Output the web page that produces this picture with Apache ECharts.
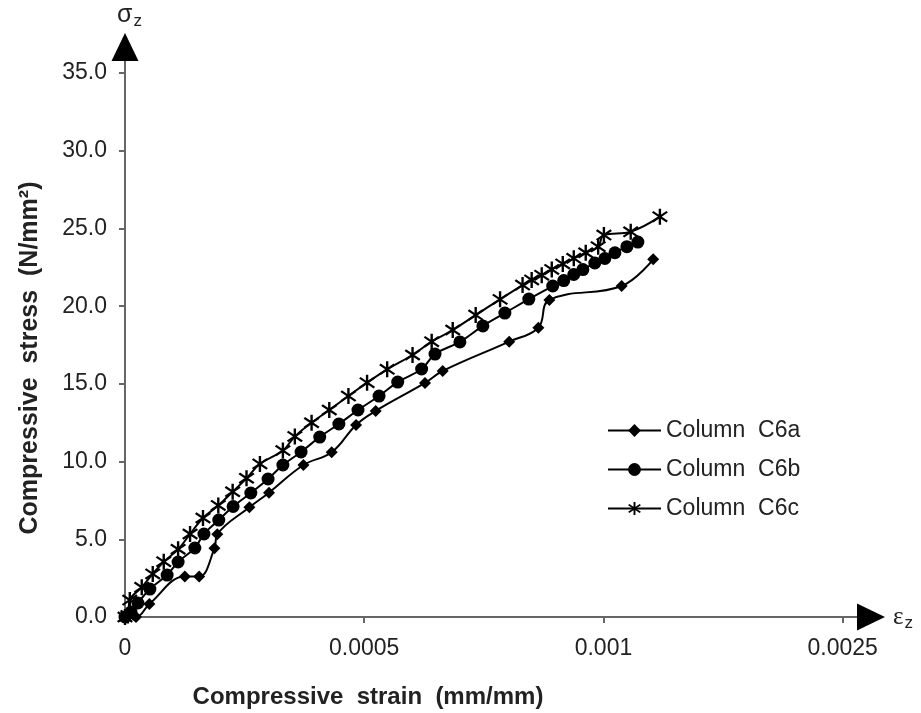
<!DOCTYPE html>
<html>
<head>
<meta charset="utf-8">
<script src="https://cdn.jsdelivr.net/npm/echarts@6/dist/echarts.min.js"></script>
<style>html,body{margin:0;padding:0;background:#fff;}</style>
</head>
<body>
<div id="chart" style="width:921px;height:713px;"></div>
<script>

// strain (mm/mm) / stress (N/mm2)
let c6aStrain = [0, 0.000023, 0.000051, 0.000125, 0.000155, 0.000187, 0.000193, 0.00026, 0.000301, 0.000373, 0.000432,
    0.000483, 0.000524, 0.000627, 0.000664, 0.000803, 0.000864, 0.000887, 0.001038, 0.001104];
let c6aStress = [0, 0.0, 0.84, 2.6, 2.6, 4.42, 5.32, 7.06, 8.0, 9.78, 10.6,
    12.36, 13.26, 15.06, 15.83, 17.72, 18.62, 20.4, 21.3, 23.02];

let c6bStrain = [0, 0.0000125, 0.000027, 0.000052, 0.000088, 0.000111, 0.000146, 0.000165, 0.000196, 0.000226, 0.000263,
    0.000299, 0.00033, 0.000368, 0.000407, 0.000447, 0.000487, 0.000531, 0.00057, 0.00062, 0.000648, 0.0007,
    0.000748, 0.000794, 0.000844, 0.000894, 0.000917, 0.000938, 0.000957, 0.000982, 0.001003, 0.001024, 0.001049, 0.001072];
let c6bStress = [0, 0.32, 0.9, 1.8, 2.7, 3.54, 4.44, 5.34, 6.24, 7.11, 7.98,
    8.88, 9.78, 10.62, 11.58, 12.42, 13.32, 14.22, 15.12, 15.96, 16.92, 17.7,
    18.73, 19.56, 20.46, 21.3, 21.65, 22.04, 22.36, 22.78, 23.07, 23.44, 23.83, 24.13];

let c6cStrain = [0, 0.000006, 0.00001, 0.000035, 0.000058, 0.000081, 0.000111, 0.000136, 0.000163, 0.000195, 0.000225,
    0.000254, 0.000282, 0.00033, 0.000355, 0.00039, 0.000427, 0.000467, 0.000506, 0.000548, 0.000601, 0.000641,
    0.000685, 0.000733, 0.000784, 0.000831, 0.00085, 0.000871, 0.000892, 0.000915, 0.000938, 0.000963, 0.000989,
    0.001001, 0.001057, 0.001118];
let c6cStress = [0, 0.1, 1.09, 1.91, 2.77, 3.56, 4.36, 5.34, 6.37, 7.18, 8.06,
    8.93, 9.85, 10.71, 11.62, 12.5, 13.32, 14.22, 15.08, 15.94, 16.86, 17.72,
    18.47, 19.43, 20.44, 21.36, 21.69, 22.0, 22.37, 22.72, 23.08, 23.44, 23.83,
    24.58, 24.79, 25.76];

let seriesNames = ['Column  C6a', 'Column  C6b', 'Column  C6c'];

let xTickValues = [0, 0.0005, 0.001, 0.0015];
let xTickLabels = ['0', '0.0005', '0.001', '0.0025'];
let yTickValues = [0, 5, 10, 15, 20, 25, 30, 35];
let yTickLabels = ['0.0', '5.0', '10.0', '15.0', '20.0', '25.0', '30.0', '35.0'];

const FONT = '"Liberation Sans", Arial, sans-serif';
const X_MAX = 0.00153;
const Y_MAX = 35.78;

function pairs(xs, ys) {
    return xs.map((x, i) => [x, ys[i]]);
}

// six-armed asterisk built from three thin bars
function starPath() {
    let d = '';
    [90, 38, 142].forEach(deg => {
        let a = deg * Math.PI / 180;
        let dx = Math.cos(a), dy = -Math.sin(a);
        let px = -dy, py = dx;
        let L = 10, w = 1.3;
        let pts = [
            [10 + dx * L + px * w, 10 + dy * L + py * w],
            [10 + dx * L - px * w, 10 + dy * L - py * w],
            [10 - dx * L - px * w, 10 - dy * L - py * w],
            [10 - dx * L + px * w, 10 - dy * L + py * w]
        ];
        d += 'M' + pts.map(p => p[0].toFixed(2) + ' ' + p[1].toFixed(2)).join(' L') + ' Z ';
    });
    return 'path://' + d;
}

function tickLabel(values, labels) {
    return v => {
        let i = values.findIndex(t => Math.abs(t - v) < 1e-9);
        return i >= 0 ? labels[i] : '';
    };
}

let chart = echarts.init(document.getElementById('chart'));

let lineSeries = (name, data, symbol, size) => ({
    name,
    type: 'line',
    data,
    smooth: 0.4,
    symbol,
    symbolSize: size,
    showAllSymbol: true,
    xAxisIndex: 0,
    yAxisIndex: 0,
    lineStyle: {color: '#000', width: 2},
    itemStyle: {color: '#000'},
    emphasis: {disabled: true},
    z: 3
});

let option = {
    animation: false,
    backgroundColor: '#fff',
    textStyle: {fontFamily: FONT},
    grid: {left: 125, right: 64, top: 61, bottom: 96, containLabel: false},
    legend: {
        orient: 'vertical',
        left: 602,
        top: 414,
        itemWidth: 53,
        itemHeight: 16,
        itemGap: 16,
        textStyle: {fontSize: 23, color: '#222', fontFamily: FONT},
        data: seriesNames
    },
    xAxis: [{
        type: 'value',
        min: 0,
        max: X_MAX,
        position: 'bottom',
        splitLine: {show: false},
        axisLine: {show: true, onZero: false, lineStyle: {color: '#666', width: 2}},
        axisTick: {show: true, length: 6, customValues: xTickValues, lineStyle: {color: '#666', width: 2}},
        axisLabel: {
            customValues: xTickValues,
            formatter: tickLabel(xTickValues, xTickLabels),
            fontSize: 23, color: '#222', margin: 20, fontFamily: FONT
        }
    }, {
        // arrow head + name only
        type: 'value',
        min: 0,
        max: X_MAX,
        position: 'bottom',
        splitLine: {show: false},
        axisTick: {show: false},
        axisLabel: {show: false},
        axisLine: {
            show: true, onZero: false,
            symbol: ['none', 'triangle'],
            symbolSize: [27, 28],
            symbolOffset: [0, 14],
            lineStyle: {color: '#000', opacity: 0}
        },
        name: '{a|ε}{b|z}',
        nameLocation: 'end',
        nameGap: 36,
        nameTextStyle: {
            rich: {
                a: {fontSize: 25, fontFamily: '"Liberation Serif", serif', color: '#222'},
                b: {fontSize: 17, fontFamily: FONT, color: '#222', padding: [12, 0, 0, 1]}
            }
        }
    }],
    yAxis: [{
        type: 'value',
        min: 0,
        max: Y_MAX,
        position: 'left',
        splitLine: {show: false},
        axisLine: {show: true, onZero: false, lineStyle: {color: '#666', width: 2}},
        axisTick: {show: true, length: 6, customValues: yTickValues, lineStyle: {color: '#666', width: 2}},
        axisLabel: {
            customValues: yTickValues,
            formatter: tickLabel(yTickValues, yTickLabels),
            fontSize: 23, color: '#222', margin: 18, fontFamily: FONT
        }
    }, {
        type: 'value',
        min: 0,
        max: Y_MAX,
        position: 'left',
        splitLine: {show: false},
        axisTick: {show: false},
        axisLabel: {show: false},
        axisLine: {
            show: true, onZero: false,
            symbol: ['none', 'triangle'],
            symbolSize: [27, 28],
            symbolOffset: [0, 14],
            lineStyle: {color: '#000', opacity: 0}
        },
        name: '{a|σ}{b|z}',
        nameLocation: 'end',
        nameGap: 31,
        nameTextStyle: {
            align: 'left',
            padding: [0, 0, 0, -8],
            rich: {
                a: {fontSize: 25, fontFamily: FONT, color: '#222'},
                b: {fontSize: 17, fontFamily: FONT, color: '#222', padding: [12, 0, 0, 1]}
            }
        }
    }],
    graphic: [{
        type: 'text',
        x: 368,
        y: 697,
        style: {
            text: 'Compressive  strain  (mm/mm)',
            font: 'bold 24px ' + FONT,
            fill: '#222',
            textAlign: 'center',
            textVerticalAlign: 'middle'
        }
    }, {
        type: 'text',
        x: 30,
        y: 358,
        rotation: Math.PI / 2,
        style: {
            text: 'Compressive  stress  (N/mm²)',
            font: 'bold 25px ' + FONT,
            fill: '#222',
            textAlign: 'center',
            textVerticalAlign: 'middle'
        }
    }],
    series: [
        lineSeries(seriesNames[0], pairs(c6aStrain, c6aStress), 'diamond', 12),
        lineSeries(seriesNames[1], pairs(c6bStrain, c6bStress), 'circle', 13),
        lineSeries(seriesNames[2], pairs(c6cStrain, c6cStress), starPath(), 16)
    ]
};

chart.setOption(option);

</script>
</body>
</html>
